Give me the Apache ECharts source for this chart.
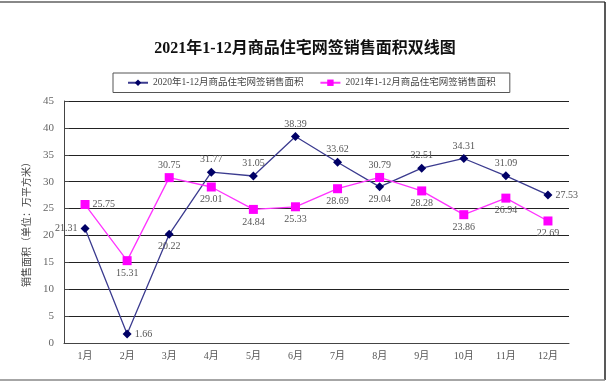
<!DOCTYPE html>
<html><head><meta charset="utf-8">
<script src="https://cdn.jsdelivr.net/npm/echarts@6/dist/echarts.min.js"></script>
<style>html,body{margin:0;padding:0;background:#fff}#c{width:610px;height:382px}</style>
</head><body><div id="c"></div>
<script>
const titleText = '2021年1-12月商品住宅网签销售面积双线图';
const months = ['1月','2月','3月','4月','5月','6月','7月','8月','9月','10月','11月','12月'];
const name2020 = '2020年1-12月商品住宅网签销售面积';
const name2021 = '2021年1-12月商品住宅网签销售面积';
const values2020 = [21.31, 1.66, 20.22, 31.77, 31.05, 38.39, 33.62, 29.04, 32.51, 34.31, 31.09, 27.53];
const values2021 = [25.75, 15.31, 30.75, 29.01, 24.84, 25.33, 28.69, 30.79, 28.28, 23.86, 26.94, 22.69];
const yAxisName = '销售面积（单位：万平方米）';

const pos2020 = ['left','right','bottom','top','top','top','top','bottom','top','top','top','right'];
const pos2021 = ['right','bottom','top','bottom','bottom','bottom','bottom','top','bottom','bottom','bottom','bottom'];

const serif = '"Liberation Serif", "Noto Sans CJK SC", serif';
const chart = echarts.init(document.getElementById('c'));
function build(vals, pos) {
  return vals.map((v, i) => ({ value: v, label: { position: pos[i] } }));
}
const labelStyle = { show: true, color: '#555', fontSize: 10, fontFamily: serif, distance: 3, formatter: p => p.value.toFixed(2) };
chart.setOption({
  animation: false,
  title: { text: titleText, left: 'center', top: 36, textStyle: { fontFamily: serif, fontSize: 16, fontWeight: 'bold', color: '#111' } },
  legend: {
    top: 73, left: 113, padding: [5, 14], borderColor: '#555', borderWidth: 1, itemGap: 16,
    itemWidth: 20, itemHeight: 8,
    textStyle: { fontFamily: serif, fontSize: 9.5, color: '#444' },
    data: [name2020, name2021]
  },
  grid: { left: 64, right: 41, top: 101, bottom: 39 },
  xAxis: {
    type: 'category', data: months, boundaryGap: true,
    axisLine: { lineStyle: { color: '#444', width: 1 } },
    axisTick: { inside: true, length: 5, lineStyle: { color: '#444' } },
    axisLabel: { color: '#555', fontSize: 10, fontFamily: serif, margin: 8 }
  },
  yAxis: {
    type: 'value', min: 0, max: 45, interval: 5,
    name: yAxisName, nameLocation: 'middle', nameGap: 28, nameRotate: 90,
    nameTextStyle: { color: '#444', fontSize: 10, fontFamily: serif },
    axisLine: { show: true, lineStyle: { color: '#444' } },
    axisTick: { show: true, inside: true, length: 5, lineStyle: { color: '#444' } },
    axisLabel: { color: '#666', fontSize: 11, fontFamily: serif, margin: 10 },
    splitLine: { show: true, lineStyle: { color: '#222', width: 1 } }
  },
  series: [
    { name: name2020, type: 'line', data: build(values2020, pos2020), symbol: 'diamond', symbolSize: 9,
      itemStyle: { color: '#000066' }, lineStyle: { color: '#3b3b8f', width: 1.3 }, label: labelStyle },
    { name: name2021, type: 'line', data: build(values2021, pos2021), symbol: 'rect', symbolSize: 9,
      itemStyle: { color: '#ff00ff' }, lineStyle: { color: '#ff33ff', width: 1.3 }, label: labelStyle }
  ],
  graphic: [
    { type: 'line', shape: { x1: 0, y1: 2, x2: 605, y2: 2 }, style: { stroke: '#888', lineWidth: 2 } },
    { type: 'line', shape: { x1: 605, y1: 2, x2: 605, y2: 380 }, style: { stroke: '#222', lineWidth: 1.5 } },
    { type: 'line', shape: { x1: 0, y1: 380, x2: 605, y2: 380 }, style: { stroke: '#888', lineWidth: 1.5 } }
  ]
});
</script></body></html>
